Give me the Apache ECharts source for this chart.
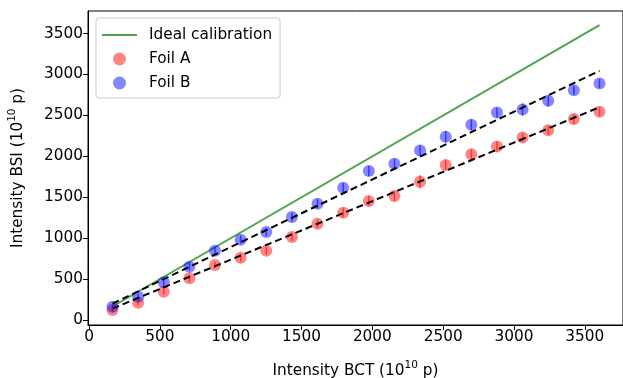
<!DOCTYPE html>
<html>
<head>
<meta charset="utf-8">
<script src="https://cdn.jsdelivr.net/npm/echarts@6/dist/echarts.min.js"></script>
<style>
  html, body { margin: 0; padding: 0; background: #fff; }
  #chart { width: 623px; height: 378px; }
</style>
</head>
<body>
<div id="chart"></div>
<script>
  // BCT intensity (10^10 p) for each measurement
  const bct = [165, 346, 527, 708, 889, 1070, 1251, 1432, 1613, 1794,
               1975, 2156, 2337, 2518, 2699, 2880, 3061, 3242, 3423, 3604];
  const foilA = [122, 211, 346, 509, 672, 760, 845, 1015, 1175, 1310,
                 1455, 1515, 1690, 1895, 2025, 2120, 2230, 2320, 2455, 2545];
  const foilB = [162, 284, 460, 651, 846, 980, 1075, 1260, 1420, 1615,
                 1820, 1910, 2070, 2240, 2385, 2535, 2573, 2678, 2808, 2890];
  const errA = [30, 30, 35, 40, 40, 45, 45, 50, 50, 55, 60, 60, 80, 60, 60, 60, 55, 55, 60, 55];
  const errB = [30, 35, 40, 45, 45, 50, 50, 55, 55, 60, 60, 60, 65, 70, 65, 60, 75, 65, 55, 55];
  // linear fit end points
  const fitX = [165, 3604];
  const fitA = [140, 2600];
  const fitB = [200, 3045];
  const idealX = [165, 3604];
  const tickValues = [0, 500, 1000, 1500, 2000, 2500, 3000, 3500];

  const zip = (xs, ys) => xs.map((x, i) => [x, ys[i]]);
  const font = 'DejaVu Sans';
  const fs = 15.3;
  const red = 'rgba(255,0,0,0.6)';
  const blue = 'rgba(0,0,255,0.6)';

  const errSeries = (name, ys, errs, color) => ({
    type: 'custom',
    name: name,
    silent: true,
    z: 3,
    itemStyle: { color: color },
    data: bct.map((x, i) => [x, ys[i] - errs[i], ys[i] + errs[i]]),
    renderItem: (params, api) => {
      const lo = api.coord([api.value(0), api.value(1)]);
      const hi = api.coord([api.value(0), api.value(2)]);
      return {
        type: 'line',
        shape: { x1: lo[0], y1: lo[1], x2: hi[0], y2: hi[1] },
        style: { stroke: color, lineWidth: 1.5 }
      };
    }
  });

  const axisCommon = {
    axisLine: { show: true, onZero: false, lineStyle: { color: '#000', width: 1 } },
    axisTick: { show: true, length: 5, customValues: tickValues, lineStyle: { color: '#000' } },
    axisLabel: {
      customValues: tickValues,
      formatter: v => String(v),
      color: '#000', fontFamily: font, fontSize: fs, margin: 5
    },
    splitLine: { show: false },
    nameLocation: 'middle',
    nameTextStyle: {
      rich: {
        a: { fontFamily: font, fontSize: fs, color: '#000', lineHeight: 19, verticalAlign: 'bottom' },
        s: { fontFamily: font, fontSize: 10.5, color: '#000', lineHeight: 19, verticalAlign: 'top' }
      }
    }
  };

  const chart = echarts.init(document.getElementById('chart'), null, { renderer: 'canvas' });
  chart.setOption({
    animation: false,
    backgroundColor: '#fff',
    grid: {
      left: 88, right: 0, top: 11, bottom: 53,
      outerBoundsMode: 'none', containLabel: false,
      show: true, borderColor: '#000', borderWidth: 1
    },
    legend: {
      orient: 'vertical',
      left: 96,
      top: 18,
      backgroundColor: '#fff',
      borderColor: '#ccc',
      borderWidth: 1,
      borderRadius: 3,
      padding: [8, 8, 6, 5],
      itemWidth: 35,
      itemHeight: 13,
      itemGap: 6,
      textStyle: { fontFamily: font, fontSize: fs, color: '#000', lineHeight: 18, padding: [0, 0, 0, 7] },
      data: [
        { name: 'Ideal calibration', itemStyle: { opacity: 0 } },
        { name: 'Foil A', icon: 'circle' },
        { name: 'Foil B', icon: 'circle' }
      ]
    },
    xAxis: Object.assign({}, axisCommon, {
      type: 'value',
      min: -8,
      max: 3770,
      name: '{a|Intensity BCT (10}{s|10}{a| p)}',
      nameGap: 35
    }),
    yAxis: Object.assign({}, axisCommon, {
      type: 'value',
      min: -61,
      max: 3776,
      name: '{a|Intensity BSI (10}{s|10}{a| p)}',
      nameGap: 62
    }),
    series: [
      {
        name: 'Ideal calibration',
        type: 'line',
        symbol: 'none',
        z: 2,
        data: zip(idealX, idealX),
        lineStyle: { color: '#4da64d', width: 2 },
        itemStyle: { color: '#4da64d' }
      },
      errSeries('errA', foilA, errA, red),
      errSeries('errB', foilB, errB, blue),
      {
        name: 'Foil A',
        type: 'scatter',
        symbolSize: 12,
        z: 3,
        data: zip(bct, foilA),
        itemStyle: { color: red }
      },
      {
        name: 'Foil B',
        type: 'scatter',
        symbolSize: 12,
        z: 3,
        data: zip(bct, foilB),
        itemStyle: { color: blue }
      },
      {
        name: 'fitA',
        type: 'line',
        symbol: 'none',
        z: 4,
        data: zip(fitX, fitA),
        lineStyle: { color: '#000', width: 2, type: [7, 4] }
      },
      {
        name: 'fitB',
        type: 'line',
        symbol: 'none',
        z: 4,
        data: zip(fitX, fitB),
        lineStyle: { color: '#000', width: 2, type: [7, 4] }
      }
    ]
  });
  window.addEventListener('resize', () => chart.resize());
</script>
</body>
</html>
